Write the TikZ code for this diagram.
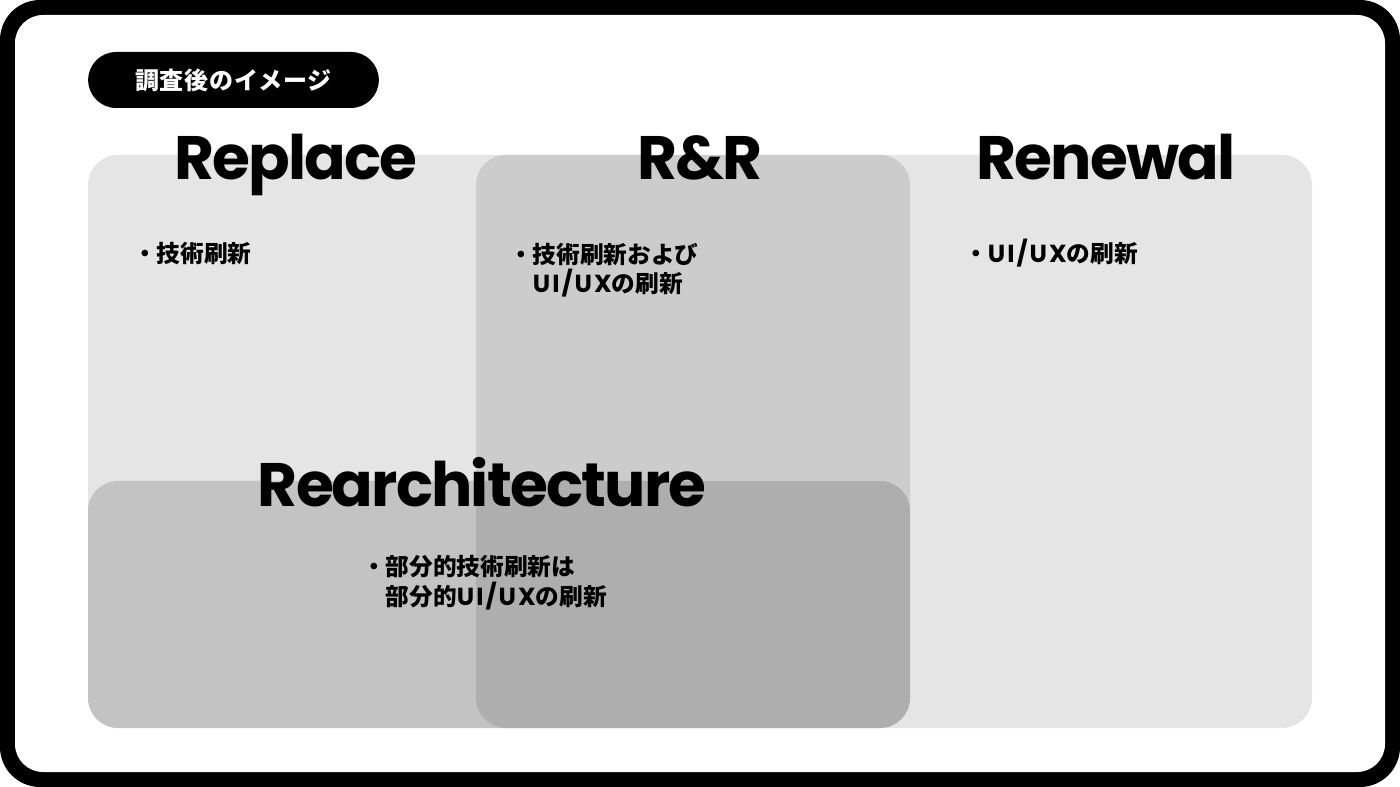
\documentclass[tikz,border=0pt]{standalone}
\usepackage{fontspec}
\newfontfamily\titlefont{Poppins}[LetterSpace=-3]
\newfontfamily\latfont{Poppins}[LetterSpace=8]
\newfontfamily\jpfont{Noto Sans CJK JP}
\newfontfamily\tagfont{Noto Sans CJK JP}[LetterSpace=3]
\newcommand\uiux{{\latfont\bfseries\fontsize{18.5}{22}\selectfont UI/UX}}
\usetikzlibrary{positioning}
\definecolor{pframe}{HTML}{000000}
\definecolor{pbg}{HTML}{E5E5E5}
\definecolor{prr}{HTML}{CCCCCC}

\begin{document}
\begin{tikzpicture}[x=0.75pt, y=-0.75pt,
  area/.style={rounded corners=22.5pt},
  ttl/.style={anchor=base, inner sep=0pt,
              font=\titlefont\bfseries\fontsize{46}{56}\selectfont},
  pnt/.style={anchor=base west, inner sep=0pt, align=left,
              font=\jpfont\bfseries\fontsize{17.75}{21.75}\selectfont},
  pill/.style={fill=black, text=white, rounded corners=21pt, inner sep=0pt,
               minimum width=218pt, minimum height=42pt,
               font=\tagfont\bfseries\fontsize{18}{20}\selectfont}]
  \useasboundingbox (0,0) rectangle (1400,787);
  % --- frame
  \fill[pframe, rounded corners=30pt] (0,0) rectangle (1400,787);
  \fill[white, rounded corners=21pt] (15,15) rectangle (1385,772);
  % --- areas
  \fill[pbg, area] (88,155) rectangle (1312,728);
  \fill[prr, area] (476,155) rectangle (910,728);
  \fill[black, fill opacity=0.145, area] (88,481) rectangle (910,728);
  % --- tag
  \node[pill] (tag) at (233.5,80) {調査後のイメージ};
  % --- titles
  \node[ttl] (rep)  at (296,180) {Replace};
  \node[ttl] (rr)   at (700,180) {R\&R};
  \node[ttl] (ren)  at (1106,180) {Renewal};
  \node[ttl] (rea)  at (482,507) {Rearchitecture};
  % --- points
  \node[pnt] (prep) at (133,263) {・技術刷新};
  \node[pnt] (prr)  at (509,293) {・技術刷新および\\\hphantom{・}\uiux の刷新};
  \node[pnt] (pren) at (964,263) {・\uiux の刷新};
  \node[pnt] (prea) at (362,605) {・部分的技術刷新は\\\hphantom{・}部分的\uiux の刷新};
\end{tikzpicture}
\end{document}
